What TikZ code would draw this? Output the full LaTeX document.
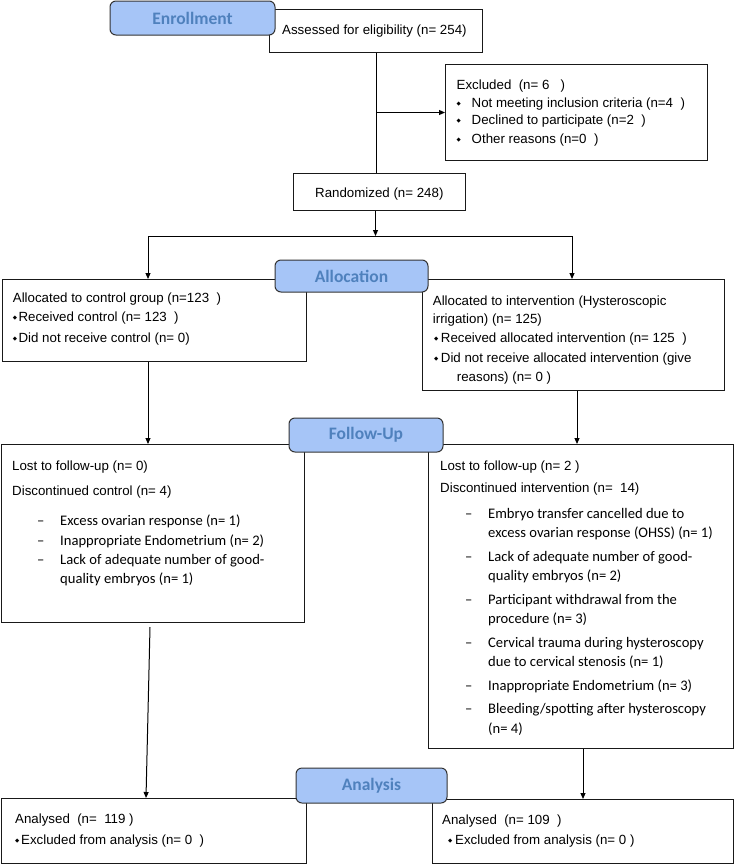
\documentclass[tikz,border=0pt]{standalone}
\usepackage{fontspec}
\setmainfont{Liberation Sans}
\newfontfamily\carl{Carlito}
\newfontfamily\dejavu{DejaVu Sans}
\usetikzlibrary{arrows.meta}
\definecolor{tabfill}{RGB}{166,197,247}
\definecolor{tabtext}{RGB}{79,129,189}
\newcommand\bul{\raisebox{1.6pt}{\dejavu\fontsize{5.5}{6}\selectfont ◆}}
\begin{document}
\begin{tikzpicture}[x=1pt,y=-1pt,
  box/.style={draw=black!90, line width=1pt, rectangle, inner sep=0pt, anchor=north west},
  tab/.style={draw=black!80, line width=1pt, fill=tabfill, rounded corners=6pt, inner sep=0pt, font=\carl\bfseries\fontsize{17.5}{20}\selectfont, text=tabtext},
  ar/.style={line width=1pt, -{Triangle[length=6pt,width=5pt]}},
  ln/.style={line width=1pt},
  ta/.style={anchor=base west, inner sep=0pt, font=\fontsize{13.3}{16}\selectfont},
  tc/.style={anchor=base west, inner sep=0pt, font=\carl\fontsize{14.6}{17}\selectfont},
]
\useasboundingbox (0,0) rectangle (735,865);

% boxes
\node[box, minimum width=213pt, minimum height=43pt] (ass) at (269,9) {};
\node[box, minimum width=262pt, minimum height=96pt] (excl) at (445,64) {};
\node[box, minimum width=172pt, minimum height=37pt] (rand) at (293,173) {};
\node[box, minimum width=304pt, minimum height=82pt] (la) at (2,279) {};
\node[box, minimum width=302pt, minimum height=111pt] (ra) at (422,279) {};
\node[box, minimum width=303pt, minimum height=178pt] (lf) at (1,444) {};
\node[box, minimum width=305pt, minimum height=304pt] (rf) at (428,444) {};
\node[box, minimum width=305pt, minimum height=65pt] (lan) at (1,798) {};
\node[box, minimum width=301pt, minimum height=64pt] (ran) at (432,799) {};

% connectors
\coordinate (split) at (375.5,236);
\coordinate (sl) at (148,236);
\coordinate (sr) at (572,236);
\coordinate (xr) at (577,0);
\coordinate (xr2) at (583,0);
\coordinate (lfo) at (150,627);
\coordinate (lai) at (146,798);
\draw[ln] (ass.south) -- (ass.south |- rand.north);
\draw[ar] (ass.south |- excl.west) -- (excl.west);
\draw[ar] (split |- rand.south) -- (split);
\draw[ln] (sl) -- (sr);
\draw[ar] (sl) -- (sl |- la.north);
\draw[ar] (sr) -- (sr |- ra.north);
\draw[ar] (sl |- la.south) -- (sl |- lf.north);
\draw[ar] (xr |- ra.south) -- (xr |- rf.north);
\draw[ar] (lfo) -- (lai);
\draw[ar] (xr2 |- rf.south) -- (xr2 |- ran.north);

% tabs
\node[tab, minimum width=165pt, minimum height=34pt] (tenr) at (192.5,18) {Enrollment};
\node[tab, minimum width=153pt, minimum height=32pt] (tall) at (351.5,276) {Allocation};
\node[tab, minimum width=154pt, minimum height=34pt] (tfol) at (366,435) {Follow-Up};
\node[tab, minimum width=151pt, minimum height=35pt] (tana) at (371.5,785.5) {Analysis};

% texts: enrollment
\node[ta] (t1) at (282,34) {Assessed for eligibility (n= 254)};
\node[ta] (t2) at (456.5,89) {Excluded\ \ (n= 6\ \ \ )};
\node[ta] (t3) at (456.5,107) {\makebox[15pt][l]{\bul}Not meeting inclusion criteria (n=4\ \ )};
\node[ta] (t4) at (456.5,124) {\makebox[15pt][l]{\bul}Declined to participate (n=2\ \ )};
\node[ta] (t5) at (456.5,143) {\makebox[15pt][l]{\bul}Other reasons (n=0\ \ )};
\node[ta] (t6) at (315,197) {Randomized (n= 248)};

% allocation
\node[ta] (t7) at (12.7,302) {Allocated to control group (n=123\ \ )};
\node[ta] (t8) at (12.7,321) {\makebox[5.7pt][l]{\bul}Received control (n= 123\ \ )};
\node[ta] (t9) at (12.7,342) {\makebox[5.7pt][l]{\bul}Did not receive control (n= 0)};
\node[ta] (t10) at (432.7,305) {Allocated to intervention (Hysteroscopic};
\node[ta] (t11) at (432.7,323) {irrigation) (n= 125)};
\node[ta] (t12) at (434,342) {\makebox[6.7pt][l]{\bul}Received allocated intervention (n= 125\ \ )};
\node[ta] (t13) at (434,362) {\makebox[6.7pt][l]{\bul}Did not receive allocated intervention (give};
\node[ta] (t14) at (456.7,381) {reasons) (n= 0 )};

% follow-up left
\node[ta] (t15) at (12,470) {Lost to follow-up (n= 0)};
\node[ta] (t16) at (12,495) {Discontinued control (n= 4)};
\node[tc] (t17) at (37,525) {\makebox[23pt][l]{–}Excess ovarian response (n= 1)};
\node[tc] (t18) at (37,545) {\makebox[23pt][l]{–}Inappropriate Endometrium (n= 2)};
\node[tc] (t19) at (37,564) {\makebox[23pt][l]{–}Lack of adequate number of good-};
\node[tc] (t20) at (60,583) {quality embryos (n= 1)};

% follow-up right
\node[ta] (t21) at (440,470) {Lost to follow-up (n= 2 )};
\node[ta] (t22) at (440,492) {Discontinued intervention (n=\ \ 14)};
\node[tc] (t23) at (465,518) {\makebox[23pt][l]{–}Embryo transfer cancelled due to};
\node[tc] (t24) at (488,537.5) {excess ovarian response (OHSS) (n= 1)};
\node[tc] (t25) at (465,561) {\makebox[23pt][l]{–}Lack of adequate number of good-};
\node[tc] (t26) at (488,580.5) {quality embryos (n= 2)};
\node[tc] (t27) at (465,604) {\makebox[23pt][l]{–}Participant withdrawal from the};
\node[tc] (t28) at (488,623.5) {procedure (n= 3)};
\node[tc] (t29) at (465,647) {\makebox[23pt][l]{–}Cervical trauma during hysteroscopy};
\node[tc] (t30) at (488,666.5) {due to cervical stenosis (n= 1)};
\node[tc] (t31) at (465,690) {\makebox[23pt][l]{–}Inappropriate Endometrium (n= 3)};
\node[tc] (t32) at (465,713.5) {\makebox[23pt][l]{–}Bleeding/spotting after hysteroscopy};
\node[tc] (t33) at (488,733) {(n= 4)};

% analysis
\node[ta] (t34) at (15,823) {Analysed\ \ (n=\ \ 119 )};
\node[ta] (t35) at (15,844) {\makebox[6pt][l]{\bul}Excluded from analysis (n= 0\ \ )};
\node[ta] (t36) at (442,824) {Analysed\ \ (n= 109\ \ )};
\node[ta] (t37) at (448,844) {\makebox[7pt][l]{\bul}Excluded from analysis (n= 0 )};
\end{tikzpicture}
\end{document}
